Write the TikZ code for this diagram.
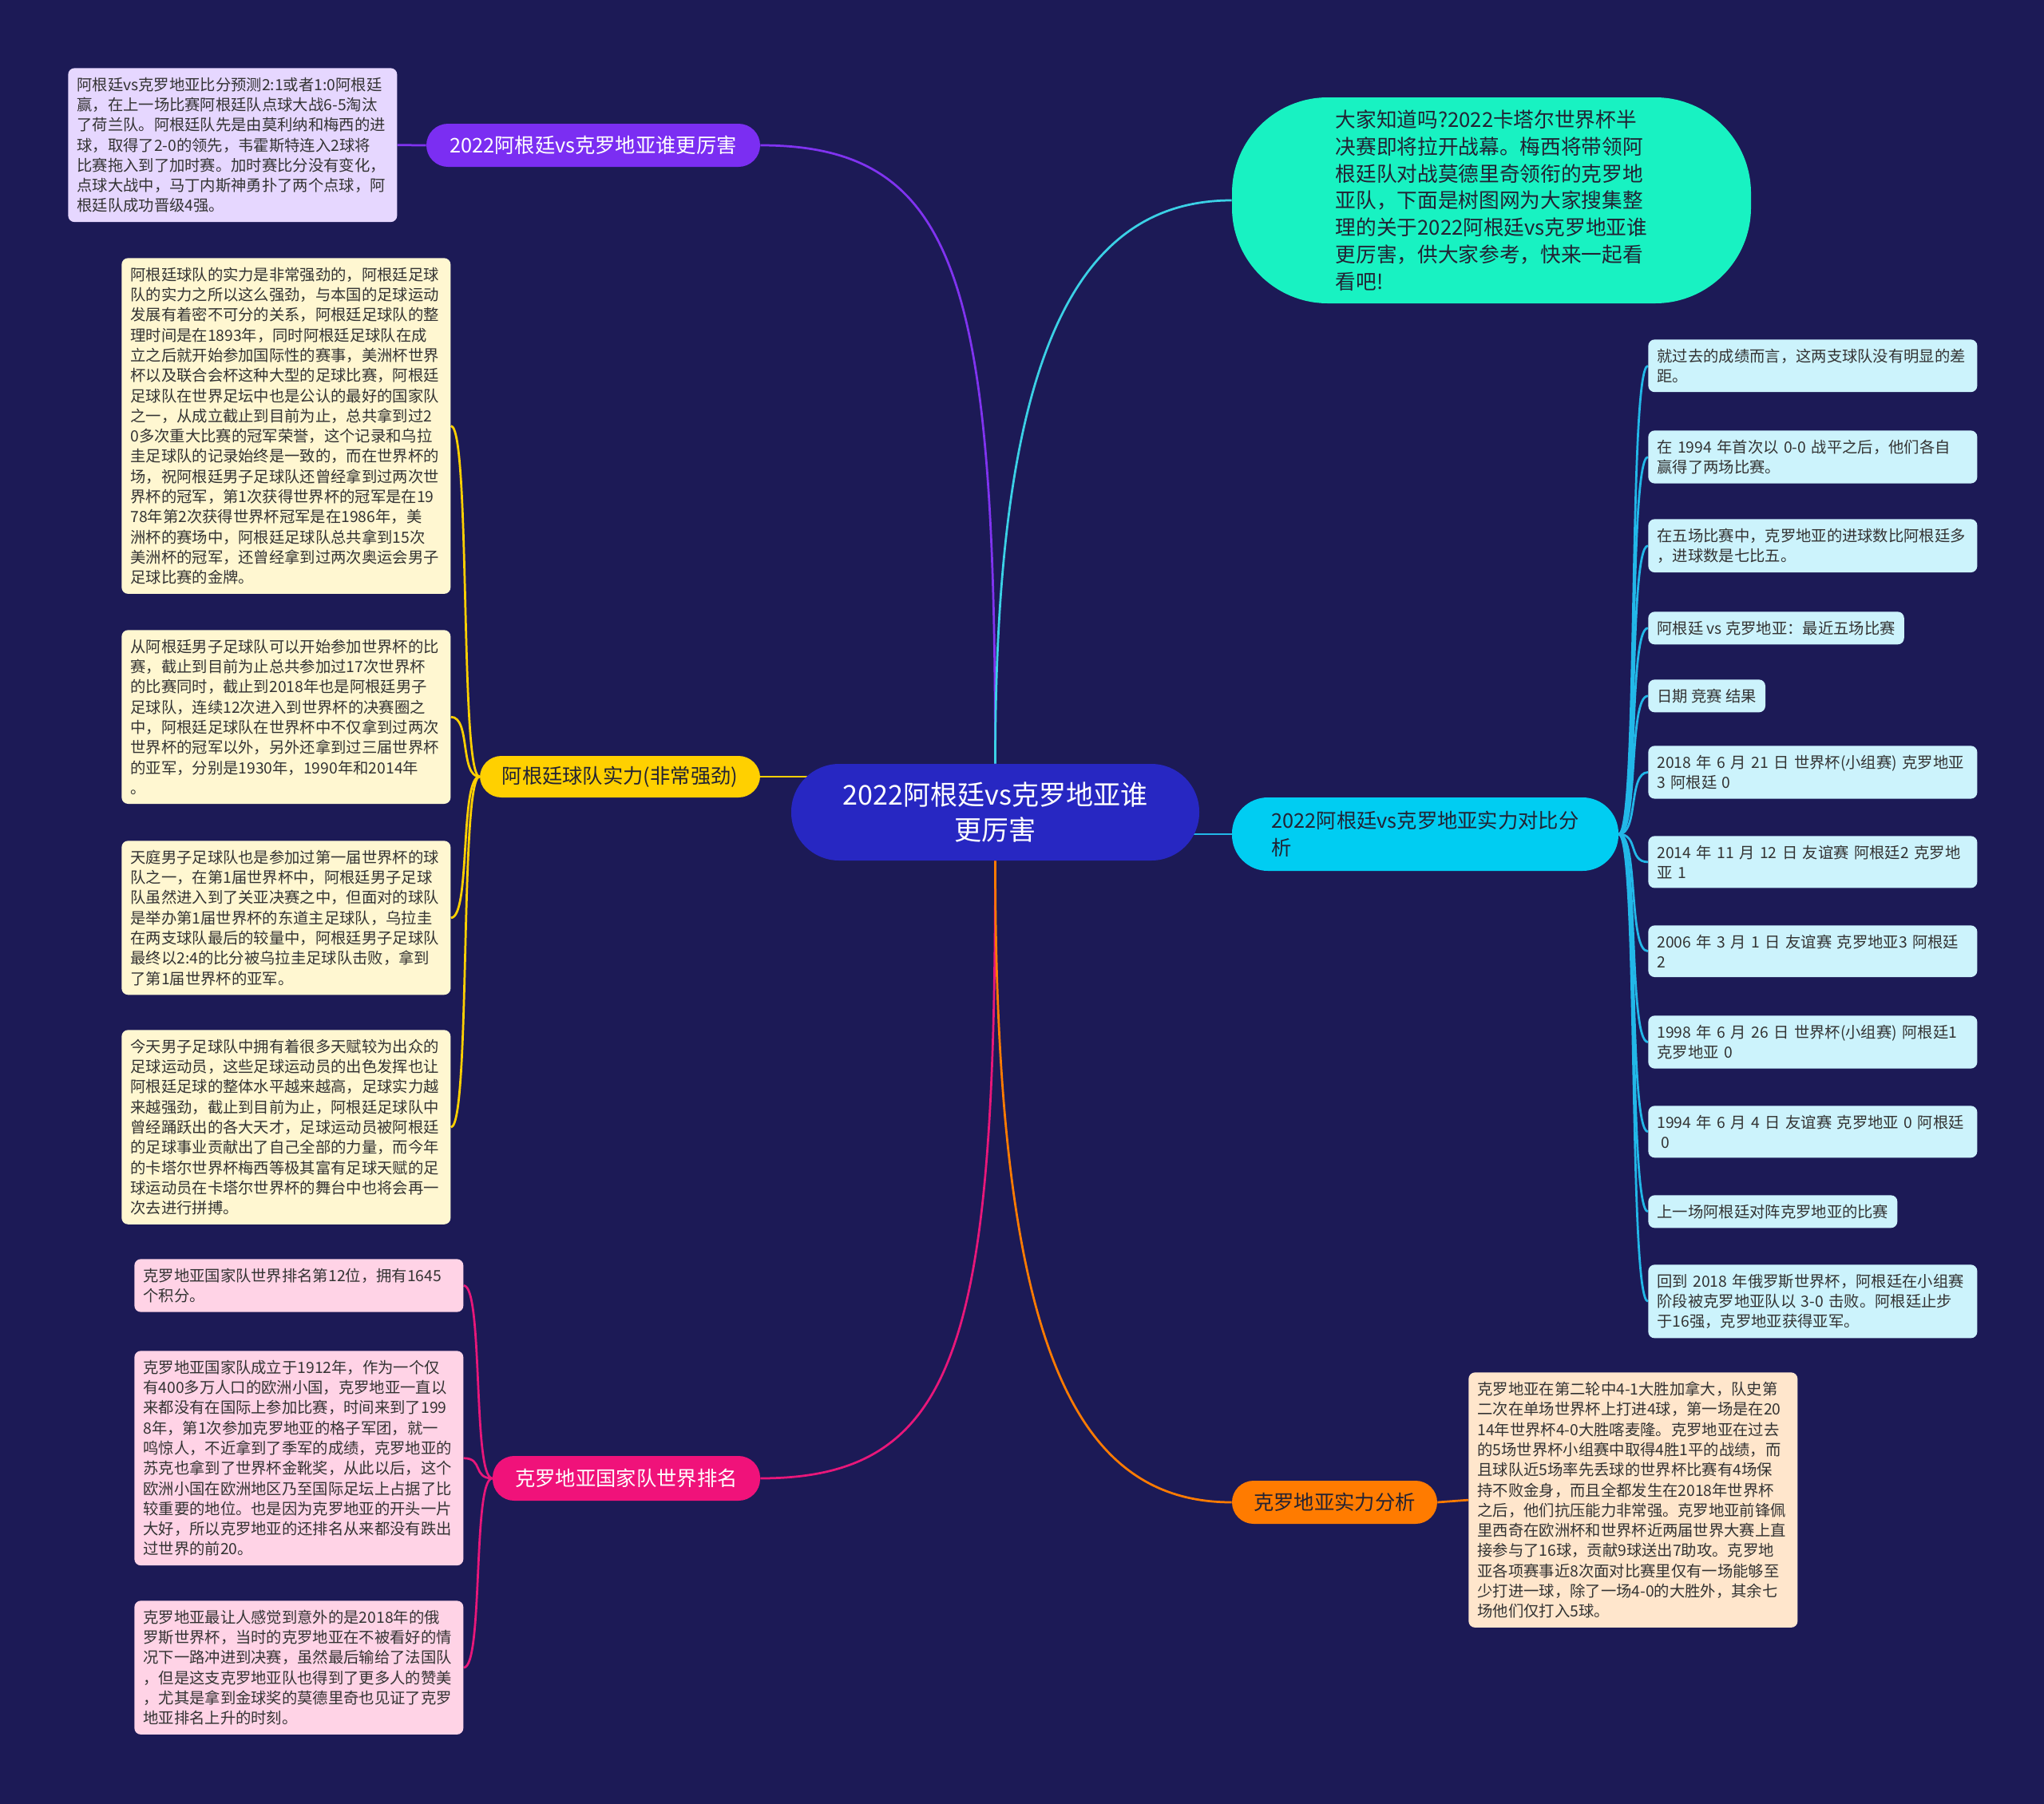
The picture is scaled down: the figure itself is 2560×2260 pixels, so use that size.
\documentclass[tikz,border=0pt]{standalone}
\usepackage{fontspec}
\setmainfont{Noto Sans CJK SC}
\usepackage{tikz}
\usetikzlibrary{positioning}
\definecolor{bgnavy}{HTML}{1C1A56}
\definecolor{rootblue}{HTML}{2727C2}
\definecolor{pillpurple}{HTML}{7B2EF2}
\definecolor{pillyellow}{HTML}{FFD000}
\definecolor{pillpink}{HTML}{F0127A}
\definecolor{pillcyan}{HTML}{00CDF2}
\definecolor{pillorange}{HTML}{FF7B00}
\definecolor{introteal}{HTML}{18F2C2}
\definecolor{leafpurple}{HTML}{E6D7FF}
\definecolor{leafyellow}{HTML}{FFF7D1}
\definecolor{leafpink}{HTML}{FFD3E6}
\definecolor{leafcyan}{HTML}{CCF3FC}
\definecolor{leaforange}{HTML}{FFE6CC}
\definecolor{linepurple}{HTML}{8033F0}
\definecolor{lineyellow}{HTML}{FFD000}
\definecolor{linepink}{HTML}{E8177A}
\definecolor{lineteal}{HTML}{3BD1E6}
\definecolor{linecyan}{HTML}{22B8E8}
\definecolor{lineorange}{HTML}{FF7B00}
\definecolor{darktext}{HTML}{222233}
\definecolor{leaftext}{HTML}{333333}
\pgfdeclarelayer{back}
\pgfdeclarelayer{edges}
\pgfsetlayers{back,edges,main}
\newcommand\leaffont{\fontsize{11pt}{14.4pt}\selectfont}
\newcommand\branchfont{\fontsize{14.4pt}{19.4pt}\selectfont}
\newcommand\rootfont{\fontsize{19.4pt}{25pt}\selectfont}
\newcommand\introfont{\fontsize{14.6pt}{19.2pt}\selectfont}
\tikzset{
  rootnode/.style={fill=rootblue, text=white, rounded corners=12mm, minimum width=102.2mm, minimum height=24.2mm, align=center, font=\rootfont, inner sep=0pt},
  branch/.style={rounded corners=5.4mm, minimum height=10.8mm, align=left, font=\branchfont, inner sep=0pt},
  leafbox/.style={rounded corners=1.6mm, align=left, font=\leaffont, text=leaftext, inner xsep=2.2mm, inner ysep=2.3mm, anchor=north west},
  wideleaf/.style={leafbox, text width=78mm},
  link/.style={line width=0.55mm}
}

\begin{document}
\begin{tikzpicture}[x=0.2mm, y=-0.2mm]
  \begin{pgfonlayer}{back}
    \fill[bgnavy] (0,0) rectangle (2560,2260);
  \end{pgfonlayer}
  \useasboundingbox (0,0) rectangle (2560,2260);

  % root and main branches
  \node[rootnode] (root) at (1246.5,1017.5) {2022阿根廷vs克罗地亚谁\\更厉害};
  \node[branch, fill=pillpurple, text=white, minimum width=83.6mm] (pA) at (743,182) {2022阿根廷vs克罗地亚谁更厉害};
  \node[branch, fill=pillyellow, text=darktext, minimum width=70.2mm, minimum height=10.4mm] (pB) at (776.5,973) {阿根廷球队实力(非常强劲)};
  \node[branch, fill=pillpink, text=white, minimum width=67mm, minimum height=11.2mm] (pC) at (784.5,1852) {克罗地亚国家队世界排名};
  \node[fill=introteal, text=darktext, rounded corners=24mm, minimum width=130mm, minimum height=51.6mm, align=left, font=\introfont, inner sep=0pt] (intro) at (1868,251)
    {大家知道吗?2022卡塔尔世界杯半\\决赛即将拉开战幕。梅西将带领阿\\根廷队对战莫德里奇领衔的克罗地\\亚队，下面是树图网为大家搜集整\\理的关于2022阿根廷vs克罗地亚谁\\更厉害，供大家参考，快来一起看\\看吧!};
  \node[branch, fill=pillcyan, text=darktext, rounded corners=9mm, minimum width=96.8mm, minimum height=18.4mm] (pD) at (1785,1045) {2022阿根廷vs克罗地亚实力对比分\\析};
  \node[branch, fill=pillorange, text=darktext, minimum width=51.4mm] (pE) at (1671.5,1882) {克罗地亚实力分析};

  % left leaves
  \node[wideleaf, fill=leafpurple] (a1) at (85,85) {阿根廷vs克罗地亚比分预测2:1或者1:0阿根廷\\赢，在上一场比赛阿根廷队点球大战6-5淘汰\\了荷兰队。阿根廷队先是由莫利纳和梅西的进\\球，取得了2-0的领先，韦霍斯特连入2球将\\比赛拖入到了加时赛。加时赛比分没有变化，\\点球大战中，马丁内斯神勇扑了两个点球，阿\\根廷队成功晋级4强。};
  \node[wideleaf, fill=leafyellow] (b1) at (152,323) {阿根廷球队的实力是非常强劲的，阿根廷足球\\队的实力之所以这么强劲，与本国的足球运动\\发展有着密不可分的关系，阿根廷足球队的整\\理时间是在1893年，同时阿根廷足球队在成\\立之后就开始参加国际性的赛事，美洲杯世界\\杯以及联合会杯这种大型的足球比赛，阿根廷\\足球队在世界足坛中也是公认的最好的国家队\\之一，从成立截止到目前为止，总共拿到过2\\0多次重大比赛的冠军荣誉，这个记录和乌拉\\圭足球队的记录始终是一致的，而在世界杯的\\场，祝阿根廷男子足球队还曾经拿到过两次世\\界杯的冠军，第1次获得世界杯的冠军是在19\\78年第2次获得世界杯冠军是在1986年，美\\洲杯的赛场中，阿根廷足球队总共拿到15次\\美洲杯的冠军，还曾经拿到过两次奥运会男子\\足球比赛的金牌。};
  \node[wideleaf, fill=leafyellow] (b2) at (152,789) {从阿根廷男子足球队可以开始参加世界杯的比\\赛，截止到目前为止总共参加过17次世界杯\\的比赛同时，截止到2018年也是阿根廷男子\\足球队，连续12次进入到世界杯的决赛圈之\\中，阿根廷足球队在世界杯中不仅拿到过两次\\世界杯的冠军以外，另外还拿到过三届世界杯\\的亚军，分别是1930年，1990年和2014年\\。};
  \node[wideleaf, fill=leafyellow] (b3) at (152,1053) {天庭男子足球队也是参加过第一届世界杯的球\\队之一，在第1届世界杯中，阿根廷男子足球\\队虽然进入到了关亚决赛之中，但面对的球队\\是举办第1届世界杯的东道主足球队，乌拉圭\\在两支球队最后的较量中，阿根廷男子足球队\\最终以2:4的比分被乌拉圭足球队击败，拿到\\了第1届世界杯的亚军。};
  \node[wideleaf, fill=leafyellow] (b4) at (152,1290) {今天男子足球队中拥有着很多天赋较为出众的\\足球运动员，这些足球运动员的出色发挥也让\\阿根廷足球的整体水平越来越高，足球实力越\\来越强劲，截止到目前为止，阿根廷足球队中\\曾经踊跃出的各大天才，足球运动员被阿根廷\\的足球事业贡献出了自己全部的力量，而今年\\的卡塔尔世界杯梅西等极其富有足球天赋的足\\球运动员在卡塔尔世界杯的舞台中也将会再一\\次去进行拼搏。};
  \node[wideleaf, fill=leafpink] (k1) at (168,1577) {克罗地亚国家队世界排名第12位，拥有1645\\个积分。};
  \node[wideleaf, fill=leafpink] (k2) at (168,1692) {克罗地亚国家队成立于1912年，作为一个仅\\有400多万人口的欧洲小国，克罗地亚一直以\\来都没有在国际上参加比赛，时间来到了199\\8年，第1次参加克罗地亚的格子军团，就一\\鸣惊人，不近拿到了季军的成绩，克罗地亚的\\苏克也拿到了世界杯金靴奖，从此以后，这个\\欧洲小国在欧洲地区乃至国际足坛上占据了比\\较重要的地位。也是因为克罗地亚的开头一片\\大好，所以克罗地亚的还排名从来都没有跌出\\过世界的前20。};
  \node[wideleaf, fill=leafpink] (k3) at (168,2005) {克罗地亚最让人感觉到意外的是2018年的俄\\罗斯世界杯，当时的克罗地亚在不被看好的情\\况下一路冲进到决赛，虽然最后输给了法国队\\，但是这支克罗地亚队也得到了更多人的赞美\\，尤其是拿到金球奖的莫德里奇也见证了克罗\\地亚排名上升的时刻。};

  % right leaves
  \node[wideleaf, fill=leafcyan] (c1) at (2064,425) {就过去的成绩而言，这两支球队没有明显的差\\距。};
  \node[wideleaf, fill=leafcyan] (c2) at (2064,539) {在~1994~年首次以~0-0~战平之后，他们各自\\赢得了两场比赛。};
  \node[wideleaf, fill=leafcyan] (c3) at (2064,650) {在五场比赛中，克罗地亚的进球数比阿根廷多\\，进球数是七比五。};
  \node[leafbox, fill=leafcyan] (c4) at (2064,766) {阿根廷~vs~克罗地亚：最近五场比赛};
  \node[leafbox, fill=leafcyan] (c5) at (2064,851) {日期~竞赛~结果};
  \node[wideleaf, fill=leafcyan] (c6) at (2064,934) {2018~年~6~月~21~日~世界杯(小组赛)~克罗地亚\\3~阿根廷~0};
  \node[wideleaf, fill=leafcyan] (c7) at (2064,1047) {2014~年~11~月~12~日~友谊赛~阿根廷2~克罗地\\亚~1};
  \node[wideleaf, fill=leafcyan] (c8) at (2064,1159) {2006~年~3~月~1~日~友谊赛~克罗地亚3~阿根廷\\2};
  \node[wideleaf, fill=leafcyan] (c9) at (2064,1272) {1998~年~6~月~26~日~世界杯(小组赛)~阿根廷1\\克罗地亚~0};
  \node[wideleaf, fill=leafcyan] (c10) at (2064,1385) {1994~年~6~月~4~日~友谊赛~克罗地亚~0~阿根廷\\\hspace*{0.25em}0};
  \node[leafbox, fill=leafcyan] (c11) at (2064,1497) {上一场阿根廷对阵克罗地亚的比赛};
  \node[wideleaf, fill=leafcyan] (c12) at (2064,1584) {回到~2018~年俄罗斯世界杯，阿根廷在小组赛\\阶段被克罗地亚队以~3-0~击败。阿根廷止步\\于16强，克罗地亚获得亚军。};
  \node[wideleaf, fill=leaforange] (o1) at (1839,1719) {克罗地亚在第二轮中4-1大胜加拿大，队史第\\二次在单场世界杯上打进4球，第一场是在20\\14年世界杯4-0大胜喀麦隆。克罗地亚在过去\\的5场世界杯小组赛中取得4胜1平的战绩，而\\且球队近5场率先丢球的世界杯比赛有4场保\\持不败金身，而且全都发生在2018年世界杯\\之后，他们抗压能力非常强。克罗地亚前锋佩\\里西奇在欧洲杯和世界杯近两届世界大赛上直\\接参与了16球，贡献9球送出7助攻。克罗地\\亚各项赛事近8次面对比赛里仅有一场能够至\\少打进一球，除了一场4-0的大胜外，其余七\\场他们仅打入5球。};

  % connectors
  \begin{pgfonlayer}{edges}
    \draw[link, linepurple] (root.north) .. controls +(0,-600) and +(250,0) .. (pA.east);
    \draw[link, linepurple] (pA.west) -- (a1.east);
    \draw[link, lineteal] (root.north) .. controls +(0,-500) and +(-200,0) .. (intro.west);
    \draw[link, lineyellow] (pB.east) -- (pB.east -| root.center);
    \foreach \n in {b1,b2,b3,b4}
      \draw[link, lineyellow] (pB.west) .. controls +(-25,0) and +(25,0) .. (\n.east);
    \draw[link, linepink] (root.south) .. controls +(0,600) and +(250,0) .. (pC.east);
    \foreach \n in {k1,k2,k3}
      \draw[link, linepink] (pC.west) .. controls +(-25,0) and +(25,0) .. (\n.east);
    \draw[link, linecyan] (pD.west) -- (pD.west -| root.center);
    \foreach \n in {c1,c2,c3,c4,c5,c6,c7,c8,c9,c10,c11,c12}
      \draw[link, linecyan] (pD.east) .. controls +(25,0) and +(-25,0) .. (\n.west);
    \draw[link, lineorange] (root.south) .. controls +(0,600) and +(-200,0) .. (pE.west);
    \draw[link, lineorange] (pE.east) -- (o1.west);
  \end{pgfonlayer}
\end{tikzpicture}
\end{document}
